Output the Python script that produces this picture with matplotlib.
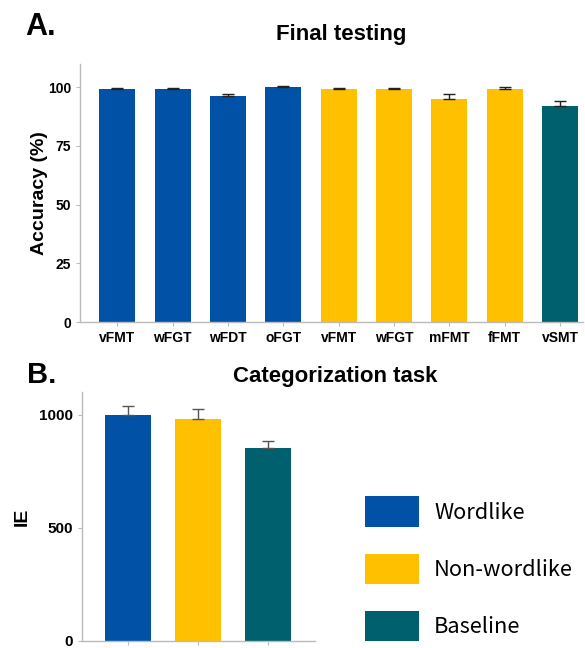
import matplotlib
matplotlib.use("Agg")
import matplotlib.pyplot as plt
from matplotlib.patches import Patch

# Data
a_labels = ["vFMT", "wFGT", "wFDT", "oFGT", "vFMT", "wFGT", "mFMT", "fFMT", "vSMT"]
a_values = [99, 99, 96, 100, 99, 99, 95, 99, 92]
a_errors = [0.4, 0.6, 1.0, 0.4, 0.4, 0.5, 2.0, 1.2, 2.0]
a_groups = ["Wordlike"] * 4 + ["Non-wordlike"] * 4 + ["Baseline"]
a_yticks = [0, 25, 50, 75, 100]

b_labels = ["Wordlike", "Non-wordlike", "Baseline"]
b_values = [997, 982, 853]
b_errors = [43, 44, 31]
b_yticks = [0, 500, 1000]

colors = {"Wordlike": "#0152A6", "Non-wordlike": "#FFC000", "Baseline": "#00606D"}
spine_c = "#BBBBBB"

plt.rcParams['font.family'] = ['Liberation Sans', 'DejaVu Sans']
fig = plt.figure(figsize=(5.85, 6.48), dpi=100)

def style(ax, size):
    for s in ["top", "right"]:
        ax.spines[s].set_visible(False)
    for s in ["left", "bottom"]:
        ax.spines[s].set_color(spine_c)
        ax.spines[s].set_linewidth(1.0)
    ax.tick_params(color=spine_c, length=3, width=0.8, labelsize=size)
    for lab in ax.get_xticklabels() + ax.get_yticklabels():
        lab.set_fontweight("bold")

# Panel A
axA = fig.add_axes([0.137, 0.503, 0.86, 0.399])
xa = list(range(len(a_labels)))
axA.bar(xa, a_values, width=0.65, color=[colors[g] for g in a_groups],
        yerr=[[0] * len(a_errors), a_errors], error_kw=dict(ecolor="#222222", elinewidth=1.0, capsize=4, capthick=1.0))
axA.set_xlim(-0.67, 8.42)
axA.set_ylim(0, 110)
axA.set_yticks(a_yticks)
axA.set_xticks(xa)
axA.set_xticklabels(a_labels)
axA.set_ylabel("Accuracy (%)", fontsize=14, fontweight="bold", labelpad=0)
style(axA, 10)
fig.text(0.043, 0.946, "A.", fontsize=22, fontweight="bold", va="baseline", ha="left")
fig.text(0.584, 0.938, "Final testing", fontsize=16, fontweight="bold", va="baseline", ha="center")

# Panel B
axB = fig.add_axes([0.140, 0.0112, 0.398, 0.384])
xb = list(range(len(b_labels)))
axB.bar(xb, b_values, width=0.66, color=[colors[g] for g in b_labels],
        yerr=[[0] * len(b_errors), b_errors], error_kw=dict(ecolor="#555555", elinewidth=1.0, capsize=4, capthick=1.0))
axB.set_xlim(-0.657, 2.67)
axB.set_ylim(0, 1101)
axB.set_yticks(b_yticks)
axB.set_xticks(xb)
axB.set_xticklabels([])
axB.set_ylabel("IE", fontsize=14, fontweight="bold", labelpad=5.5)
style(axB, 11)
fig.text(0.046, 0.409, "B.", fontsize=21, fontweight="bold", va="baseline", ha="left")
fig.text(0.573, 0.411, "Categorization task", fontsize=16, fontweight="bold", va="baseline", ha="center")

handles = [Patch(facecolor=colors[g], edgecolor="none") for g in b_labels]
fig.legend(handles, b_labels, loc="center left", bbox_to_anchor=(0.590, 0.122), frameon=False,
           prop=dict(family=["Noto Sans CJK SC", "DejaVu Sans"], size=15.7), handlelength=2.5, handleheight=1.8,
           labelspacing=1.2, handletextpad=0.68)

fig.savefig("out.png", dpi=100)
